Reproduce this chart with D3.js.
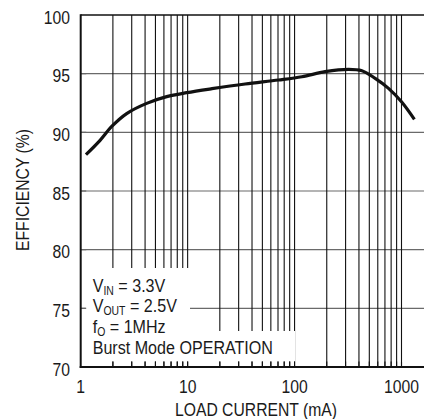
<!DOCTYPE html>
<html><head><meta charset="utf-8">
<script src="https://cdn.jsdelivr.net/npm/d3@7"></script>
<style>
html,body{margin:0;padding:0;background:#fff;}
svg{display:block;}
text{font-family:"Liberation Sans",Arial,Helvetica,sans-serif;fill:#1a1a1a;}
</style></head>
<body>
<svg id="chart" width="424" height="419"></svg>
<script>
// ---- data ----
const loadCurrent = [1.12, 1.51, 1.95, 2.69, 4.14, 6.37, 9.8, 16.9, 34.5, 70.8, 117, 193, 320, 426, 567, 756, 1000, 1320];
const efficiency  = [88.1, 89.3, 90.5, 91.6, 92.47, 93.04, 93.38, 93.72, 94.12, 94.46, 94.74, 95.17, 95.37, 95.25, 94.6, 93.75, 92.6, 91.1];
const xTickValues = [1, 10, 100, 1000];
const xTickLabels = ["1", "10", "100", "1000"];
const yTickValues = [70, 75, 80, 85, 90, 95, 100];
const yTickLabels = ["70", "75", "80", "85", "90", "95", "100"];
const xGridValues = [2,3,4,5,6,7,8,9,10,20,30,40,50,60,70,80,90,100,200,300,400,500,600,700,800,900,1000];
const conditions = [
  {main: "V", sub: "IN", rest: " = 3.3V"},
  {main: "V", sub: "OUT", rest: " = 2.5V"},
  {main: "f", sub: "O", rest: " = 1MHz"},
  {main: "Burst Mode OPERATION", sub: "", rest: ""}
];
const xTitle = "LOAD CURRENT (mA)";
const yTitle = "EFFICIENCY (%)";

// ---- layout ----
const svg = d3.select("#chart");
const L = 80.7, T = 15, B = 367, R = 424;
const SX = 0.85, FS = 18.5;
const x = d3.scaleLog().domain([1, 1000]).range([L, 401.5]);
const y = d3.scaleLinear().domain([70, 100]).range([B, T]);

const g = svg.append("g");

// condensed text helper
function ctext(px, py, str, anchor, extra) {
  const gg = g.append("g").attr("transform", `translate(${px},${py})${extra || ""} scale(${SX},1)`);
  return gg.append("text").attr("x", 0).attr("y", 0).attr("text-anchor", anchor || "start")
    .attr("font-size", FS).text(str);
}

// horizontal grid
g.selectAll("line.hg").data(yTickValues.slice(1, -1)).join("line")
  .attr("x1", L).attr("x2", R).attr("y1", d => y(d)).attr("y2", d => y(d))
  .attr("stroke", "#6a6a6a").attr("stroke-width", 1.2);
// vertical grid
g.selectAll("line.vg").data(xGridValues).join("line")
  .attr("x1", d => x(d)).attr("x2", d => x(d)).attr("y1", T).attr("y2", B)
  .attr("stroke", "#111").attr("stroke-width", 1.1);
// top border
g.append("line").attr("x1", L).attr("x2", R).attr("y1", T).attr("y2", T)
  .attr("stroke", "#111").attr("stroke-width", 1.5);

// white label boxes
g.append("rect").attr("x", L + 5).attr("y", 268).attr("width", 190 - L - 5).attr("height", 64).attr("fill", "#fff");
g.append("rect").attr("x", L + 1).attr("y", 331).attr("width", 295 - L - 1).attr("height", 30.5).attr("fill", "#fff");

// inward ticks
g.selectAll("line.bt").data(xGridValues).join("line")
  .attr("x1", d => x(d)).attr("x2", d => x(d)).attr("y1", B - 5.5).attr("y2", B)
  .attr("stroke", "#111").attr("stroke-width", 1.1);
g.selectAll("line.lt").data(yTickValues.slice(1, -1)).join("line")
  .attr("x1", L).attr("x2", L + 5.5).attr("y1", d => y(d)).attr("y2", d => y(d))
  .attr("stroke", "#6a6a6a").attr("stroke-width", 1.2);

// axes lines
g.append("line").attr("x1", L).attr("x2", L).attr("y1", T - 0.75).attr("y2", B + 1)
  .attr("stroke", "#111").attr("stroke-width", 2);
g.append("line").attr("x1", L - 1).attr("x2", R).attr("y1", B).attr("y2", B)
  .attr("stroke", "#111").attr("stroke-width", 2);

// curve
const line = d3.line().x((d, i) => x(loadCurrent[i])).y(d => y(d)).curve(d3.curveCatmullRom.alpha(0.5));
g.append("path").datum(efficiency).attr("d", line)
  .attr("fill", "none").attr("stroke", "#111").attr("stroke-width", 3.2).attr("stroke-linecap", "butt");

// tick labels
yTickValues.forEach((v, i) => ctext(70, y(v) + 8.7, yTickLabels[i], "end"));
xTickValues.forEach((v, i) => ctext(x(v), 393.3, xTickLabels[i], "middle"));

// titles
ctext(256, 416, xTitle, "middle");
ctext(28.5, 190, yTitle, "middle", " rotate(-90)");

// condition text
const baselines = [291.7, 311.7, 332.5, 353.5];
conditions.forEach((c, i) => {
  const gg = g.append("g").attr("transform", `translate(92.7,${baselines[i]}) scale(0.87,1)`);
  const t = gg.append("text").attr("x", 0).attr("y", 0).attr("font-size", FS);
  t.append("tspan").text(c.main);
  if (c.sub) t.append("tspan").attr("font-size", 12).attr("dy", 3).text(c.sub);
  if (c.rest) t.append("tspan").attr("dy", c.sub ? -3 : 0).text(c.rest);
});
</script>
</body></html>
